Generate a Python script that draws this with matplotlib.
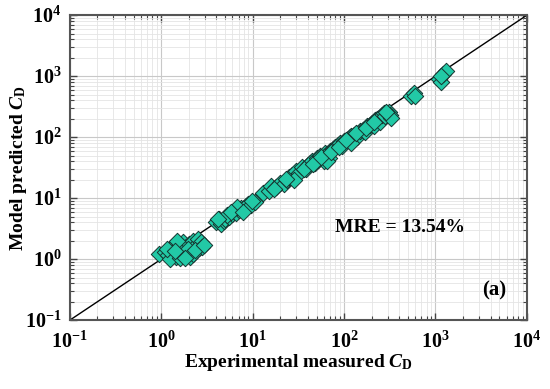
import numpy as np
import matplotlib
matplotlib.use("Agg")
import matplotlib.pyplot as plt
from matplotlib import ticker

plt.rcParams['font.family'] = 'Liberation Serif'
plt.rcParams['font.weight'] = 'bold'
plt.rcParams['mathtext.fontset'] = 'custom'
plt.rcParams['mathtext.rm'] = 'Liberation Serif:weight=bold'
plt.rcParams['mathtext.bf'] = 'Liberation Serif:weight=bold'
plt.rcParams['mathtext.it'] = 'Liberation Serif:style=italic:weight=bold'

# experimental vs predicted drag coefficient
cd_exp = [0.95, 1.1, 1.2, 1.3, 1.35, 1.4, 1.45, 1.5, 1.55, 1.6, 1.65, 1.7, 1.75, 1.8,
          1.85, 1.9, 2.0, 2.05, 2.1, 2.2, 2.3, 2.4, 2.5, 2.6, 2.7, 2.8, 1.25, 1.6, 2.2,
          1.15, 1.5, 1.95, 2.35, 2.9, 1.4, 1.8,
          4.0, 4.3, 4.5, 4.8, 5.0, 5.5, 6.0, 6.2, 6.5, 7.0, 7.5, 8.0, 8.5, 9.0, 9.5,
          10.5, 5.2, 6.8, 4.2, 5.8, 7.8, 9.8,
          13, 15, 16, 18, 20, 22, 24, 25, 27, 30, 32, 35, 38, 40, 42, 45, 48, 50, 52,
          55, 58, 60, 62, 65, 68, 70, 75, 80, 85, 90, 95, 100, 110, 115, 120, 130, 140,
          150, 160, 170, 180, 190, 200, 210, 220, 230, 240, 250, 260, 270, 280, 300,
          310, 320, 330, 120, 65, 28, 17, 23, 36, 46, 56, 72, 88, 105, 135, 175, 215,
          290,
          540, 580, 600,
          1100, 1150, 1200, 1300, 1150]
cd_pred = [1.2, 1.3, 1.15, 1.6, 1.2, 1.8, 1.1, 1.4, 1.3, 1.7, 1.15, 1.5, 1.9, 1.2,
           1.6, 1.3, 1.8, 1.1, 1.5, 2.0, 1.3, 1.7, 2.1, 1.5, 1.9, 1.6, 1.0, 1.05, 1.2,
           1.45, 1.95, 1.45, 1.4, 1.7, 1.35, 1.05,
           4.0, 4.5, 3.8, 4.2, 4.6, 5.0, 5.5, 6.2, 5.8, 6.5, 7.0, 6.8, 7.5, 8.0, 7.8,
           8.5, 5.3, 7.2, 4.6, 6.0, 6.0, 9.0,
           12, 13, 16, 15, 18, 17, 20, 22, 24, 28, 26, 33, 30, 35, 38, 40, 37, 45, 42,
           50, 48, 40, 55, 52, 45, 60, 65, 70, 75, 80, 72, 85, 95, 100, 105, 110, 100,
           125, 130, 120, 150, 160, 170, 155, 190, 200, 210, 180, 230, 250, 220, 240,
           260, 230, 210, 80, 40, 20, 14, 21, 30, 36, 47, 58, 70, 90, 115, 140, 175,
           260,
           480, 520, 470,
           900, 800, 1100, 1200, 1000]

fig = plt.figure(figsize=(5.5, 3.89), dpi=100)
ax = fig.add_axes([0.127, 0.177, 0.831, 0.784])

ax.set_xscale('log')
ax.set_yscale('log')
ax.set_xlim(1e-1, 1e4)
ax.set_ylim(1e-1, 1e4)

ax.grid(True, which='major', color='#c8c8c8', lw=0.8)
ax.grid(True, which='minor', color='#e4e4e4', lw=0.6)
ax.set_axisbelow(True)

ax.plot([1e-1, 1e4], [1e-1, 1e4], color='black', lw=1.0, zorder=2)
ax.scatter(cd_exp, cd_pred, marker='D', s=70, facecolor='#22c9a6',
           edgecolor='#163530', linewidth=0.7, zorder=3)

ax.xaxis.set_major_locator(ticker.LogLocator(base=10, numticks=10))
ax.yaxis.set_major_locator(ticker.LogLocator(base=10, numticks=10))
ax.xaxis.set_minor_locator(ticker.LogLocator(base=10, subs=np.arange(2, 10), numticks=20))
ax.yaxis.set_minor_locator(ticker.LogLocator(base=10, subs=np.arange(2, 10), numticks=20))
ax.xaxis.set_minor_formatter(ticker.NullFormatter())
ax.yaxis.set_minor_formatter(ticker.NullFormatter())

ax.tick_params(which='both', direction='in', top=True, right=True, labelsize=14.5,
               color='#444444')
ax.tick_params(axis='x', pad=8)
ax.tick_params(axis='y', pad=6)
ax.tick_params(which='major', length=5, width=1)
ax.tick_params(which='minor', length=3, width=0.8)
for sp in ax.spines.values():
    sp.set_color('#555555')
    sp.set_linewidth(1.5)

ax.set_xlabel(r'Experimental measured $\mathit{C}_\mathrm{D}$', fontsize=14,
              fontweight='bold', labelpad=0)
ax.set_ylabel(r'Model predicted $\mathit{C}_\mathrm{D}$', fontsize=14,
              fontweight='bold')
ax.yaxis.set_label_coords(-0.09, 0.5)

ax.text(0.58, 0.305, 'MRE = 13.54%', transform=ax.transAxes, fontsize=14,
        fontweight='bold', ha='left', va='center')
ax.text(0.955, 0.098, '(a)', transform=ax.transAxes, fontsize=15,
        fontweight='bold', ha='right', va='center')

fig.savefig('out.png', dpi=100)
